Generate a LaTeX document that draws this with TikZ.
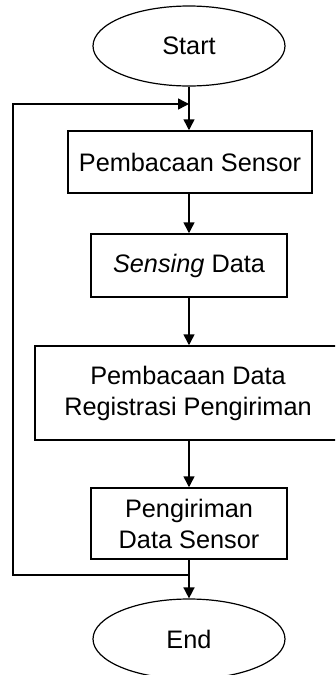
\documentclass[tikz,border=0pt]{standalone}
\usepackage{fontspec}
\setmainfont{Liberation Sans}
\usetikzlibrary{arrows.meta,shapes.geometric}
\begin{document}
\begin{tikzpicture}[x=1pt,y=-1pt,
  every node/.style={font=\fontsize{25.3}{31}\selectfont, text=black},
  procbox/.style={draw, line width=1.5pt, rectangle, align=center, inner sep=0pt},
  termin/.style={draw, line width=1.2pt, ellipse, inner sep=0pt},
  conn/.style={line width=1.5pt},
  arr/.style={conn, -{Triangle[length=11pt,width=11pt]}}]
\clip (0,0) rectangle (335,675);
\fill[white] (0,0) rectangle (335,675);
\node[termin, minimum width=192pt, minimum height=80pt] (start) at (189,46) {Start};
\node[procbox, minimum width=244pt, minimum height=62pt] (b1) at (190,162) {Pembacaan Sensor};
\node[procbox, minimum width=196pt, minimum height=63pt] (b2) at (189,265.5) {\textit{Sensing} Data};
\node[procbox, minimum width=340pt, minimum height=94pt, anchor=west] (b3) at (34,393) {};
\node[align=center, inner sep=0pt] (b3t) at (188,393) {Pembacaan Data\\Registrasi Pengiriman};
\node[procbox, minimum width=196pt, minimum height=71pt] (b4) at (189,523.5) {Pengiriman\\Data Sensor};
\node[termin, minimum width=192pt, minimum height=80pt] (end) at (189,639) {End};
\coordinate (jtop) at (189,104);
\coordinate (jbot) at (189,575);
\coordinate (lb) at (13,575);
\coordinate (lt) at (13,104);
\draw[arr] (start.south) -- (b1.north -| start.south);
\draw[arr] (b1.south -| b2.north) -- (b2.north);
\draw[arr] (b2.south) -- (b3.north -| b2.south);
\draw[arr] (b3.south -| b4.north) -- (b4.north);
\draw[arr] (b4.south) -- (end.north);
\draw[arr] (jbot) -- (lb) -- (lt) -- (jtop);
\end{tikzpicture}
\end{document}
